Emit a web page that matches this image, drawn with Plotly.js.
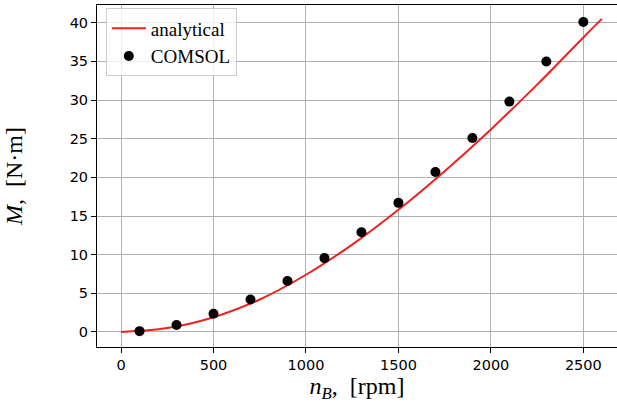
<!DOCTYPE html>
<html>
<head>
<meta charset="utf-8">
<script src="https://cdn.plot.ly/plotly-3.0.1.min.js"></script>
<style>html,body{margin:0;padding:0;background:#fff;overflow:hidden;}</style>
</head>
<body>
<div id="chart" style="width:617px;height:404px;"></div>
<script>
// Analytical curve
const analyticalN = [0, 250, 500, 750, 1000, 1250, 1500, 1750, 2000, 2250, 2500, 2600];
const analyticalM = [0, 0.5, 1.9, 4.2, 7.4, 11.3, 15.8, 20.8, 26.2, 32.0, 38.1, 40.5];
// COMSOL points
const comsolN = [100, 300, 500, 700, 900, 1100, 1300, 1500, 1700, 1900, 2100, 2300, 2500];
const comsolM = [0.1, 0.9, 2.35, 4.2, 6.6, 9.55, 12.9, 16.7, 20.7, 25.1, 29.8, 35.0, 40.1];
const xTicks = [0, 500, 1000, 1500, 2000, 2500];
const yTicks = [0, 5, 10, 15, 20, 25, 30, 35, 40];

const serif = 'Liberation Serif, Times New Roman, serif';
const traces = [
  {x: analyticalN, y: analyticalM, type: 'scatter', mode: 'lines', name: 'analytical',
   line: {color: '#ee2020', width: 2, shape: 'spline'}},
  {x: comsolN, y: comsolM, type: 'scatter', mode: 'markers', name: 'COMSOL',
   marker: {color: '#000', size: 10}}
];
const axisCommon = {
  showgrid: true, gridcolor: '#b0b0b0', gridwidth: 1,
  zeroline: false, showline: true, linecolor: '#000', linewidth: 1,
  ticks: 'outside', ticklen: 5, tickwidth: 1, tickcolor: '#000',
  tickfont: {family: 'DejaVu Sans', size: 14.5, color: '#000'}
};
const layout = {
  width: 617, height: 404,
  margin: {l: 97, r: 0, t: 5, b: 57},
  paper_bgcolor: '#fff', plot_bgcolor: '#fff',
  showlegend: true,
  legend: {x: 0.017, y: 0.99, xanchor: 'left', yanchor: 'top',
    bgcolor: 'rgba(255,255,255,0.8)', bordercolor: '#cccccc', borderwidth: 1,
    font: {family: serif, size: 19, color: '#000'}, itemwidth: 34, tracegroupgap: 0},
  xaxis: Object.assign({}, axisCommon, {
    range: [-130, 2682], tickvals: xTicks, ticktext: xTicks.map(String), mirror: true,
    title: {text: '<i>n</i><sub><i>B</i></sub>,&nbsp;&nbsp;[rpm]', font: {family: serif, size: 24, color: '#000'}, standoff: 4}
  }),
  yaxis: Object.assign({}, axisCommon, {
    range: [-1.95, 42.3], tickvals: yTicks, ticktext: yTicks.map(String),
    title: {text: '<i>M</i>,&nbsp;&nbsp;[N·m]', font: {family: serif, size: 24, color: '#000'}, standoff: 40}
  })
};
Plotly.newPlot('chart', traces, layout, {displayModeBar: false, staticPlot: true});
</script>
</body>
</html>
